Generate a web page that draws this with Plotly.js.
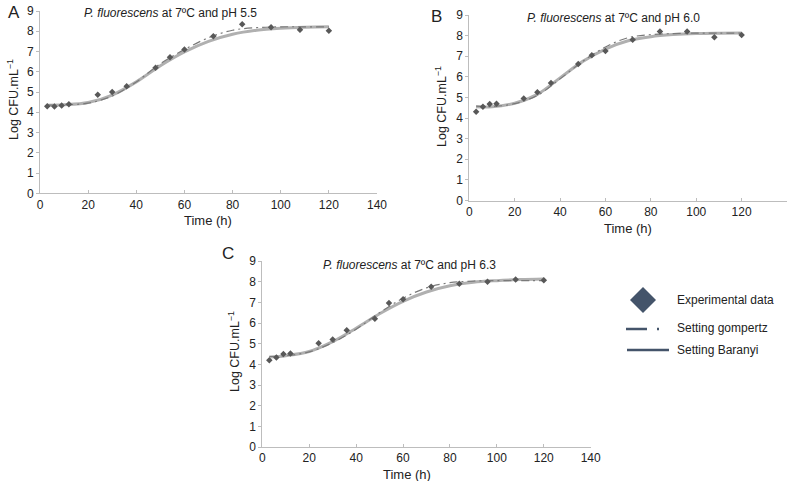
<!DOCTYPE html>
<html><head><meta charset="utf-8">
<script src="https://cdn.plot.ly/plotly-3.0.1.min.js"></script>
<style>html,body{margin:0;padding:0;background:#fff}#chart{width:796px;height:481px}</style>
</head><body><div id="chart"></div>
<script>
// Experimental sampling times (h)
const timesExp = [3, 6, 9, 12, 24, 30, 36, 48, 54, 60, 72, 84, 96, 108, 120];
const expA = [4.30, 4.28, 4.33, 4.40, 4.87, 5.00, 5.28, 6.20, 6.72, 7.10, 7.75, 8.35, 8.20, 8.08, 8.02];
const expB = [4.30, 4.55, 4.68, 4.70, 4.95, 5.25, 5.70, 6.62, 7.05, 7.25, 7.80, 8.20, 8.20, 7.92, 8.03];
const expC = [4.20, 4.33, 4.50, 4.53, 5.02, 5.20, 5.65, 6.20, 6.97, 7.15, 7.75, 7.90, 8.00, 8.10, 8.07];

// Fitted curves
const timesFit = [3, 10, 20, 30, 40, 50, 60, 70, 80, 90, 100, 110, 120];
const baranyiA = [4.35, 4.37, 4.48, 4.85, 5.50, 6.30, 6.98, 7.50, 7.85, 8.05, 8.15, 8.20, 8.22];
const gompertzA = [4.35, 4.37, 4.45, 4.80, 5.50, 6.40, 7.10, 7.68, 8.05, 8.18, 8.22, 8.22, 8.22];
const baranyiB = [4.55, 4.55, 4.72, 5.15, 5.95, 6.75, 7.35, 7.75, 7.95, 8.05, 8.10, 8.12, 8.13];
const gompertzB = [4.58, 4.56, 4.70, 5.10, 5.90, 6.75, 7.45, 7.90, 8.05, 8.10, 8.12, 8.12, 8.12];
const baranyiC = [4.35, 4.42, 4.62, 5.10, 5.75, 6.45, 7.05, 7.50, 7.80, 7.97, 8.05, 8.10, 8.13];
const gompertzC = [4.38, 4.42, 4.60, 5.05, 5.70, 6.50, 7.20, 7.70, 7.95, 8.03, 8.05, 8.05, 8.05];

const panelLabels = ['A', 'B', 'C'];
const panelTitles = ['<i>P. fluorescens</i> at 7ºC and pH 5.5',
                     '<i>P. fluorescens</i> at 7ºC and pH 6.0',
                     '<i>P. fluorescens</i> at 7ºC and pH 6.3'];
const legendLabels = ['Experimental data', 'Setting gompertz', 'Setting Baranyi'];
const xTitle = 'Time (h)';
const yTitle = 'Log CFU.mL<sup>−1</sup>';

const W = 796, H = 481;
const px = v => v / W, py = v => 1 - v / H;

const panels = [
  {exp: expA, bar: baranyiA, gom: gompertzA, x0: 40, x1: 377, yb: 193.3, yt: 11},
  {exp: expB, bar: baranyiB, gom: gompertzB, x0: 469.3, x1: 787, yb: 200.5, yt: 15},
  {exp: expC, bar: baranyiC, gom: gompertzC, x0: 262.3, x1: 590.7, yb: 447, yt: 261}
];

const traces = [];
const layout = {
  width: W, height: H, margin: {l: 0, r: 0, t: 0, b: 0},
  paper_bgcolor: '#fff', plot_bgcolor: '#fff', showlegend: false,
  font: {family: 'Liberation Sans, Arial, sans-serif', size: 12, color: '#222'},
  annotations: [], shapes: []
};

panels.forEach((p, i) => {
  const s = i === 0 ? '' : String(i + 1);
  const xa = 'x' + s, ya = 'y' + s;
  traces.push({x: timesFit, y: p.bar, xaxis: xa, yaxis: ya, mode: 'lines',
    line: {color: '#b0b0b0', width: 3, shape: 'spline'}, hoverinfo: 'skip'});
  traces.push({x: timesFit, y: p.gom, xaxis: xa, yaxis: ya, mode: 'lines',
    line: {color: '#7a7a7a', width: 1.2, dash: '8px,4px,2px,4px', shape: 'spline'}, hoverinfo: 'skip'});
  traces.push({x: timesExp, y: p.exp, xaxis: xa, yaxis: ya, mode: 'markers',
    marker: {symbol: 'diamond', size: 5, color: '#585858'}});
  layout['xaxis' + s] = {
    domain: [px(p.x0), px(p.x1)], range: [0, 140], anchor: ya,
    tickvals: [0, 20, 40, 60, 80, 100, 120, 140], ticks: 'inside', ticklen: 3,
    tickcolor: '#bdbdbd', showline: true, linecolor: '#bdbdbd', linewidth: 1,
    showgrid: false, zeroline: false, tickfont: {size: 12, color: '#222'}
  };
  layout['yaxis' + s] = {
    domain: [py(p.yb), py(p.yt)], range: [0, 9], anchor: xa,
    tickvals: [0, 1, 2, 3, 4, 5, 6, 7, 8, 9], ticks: 'outside', ticklen: 3,
    tickcolor: '#bdbdbd', showline: true, linecolor: '#bdbdbd', linewidth: 1,
    showgrid: false, zeroline: false, tickfont: {size: 12, color: '#222'}
  };
});

const ann = (x, y, text, opts) => Object.assign({xref: 'paper', yref: 'paper', x: px(x), y: py(y),
  text: text, showarrow: false, xanchor: 'center', yanchor: 'middle',
  font: {size: 12, color: '#222'}}, opts || {});

// Panel letters
layout.annotations.push(ann(14, 12, panelLabels[0], {font: {size: 17, color: '#222'}}));
layout.annotations.push(ann(436, 16, panelLabels[1], {font: {size: 17, color: '#222'}}));
layout.annotations.push(ann(228, 253, panelLabels[2], {font: {size: 17, color: '#222'}}));
// Panel titles
layout.annotations.push(ann(170, 13, panelTitles[0], {font: {size: 12, color: '#222'}}));
layout.annotations.push(ann(613, 18, panelTitles[1], {font: {size: 12, color: '#222'}}));
layout.annotations.push(ann(410, 265, panelTitles[2], {font: {size: 12, color: '#222'}}));
// Axis titles
layout.annotations.push(ann(208, 220, xTitle, {font: {size: 13, color: '#222'}}));
layout.annotations.push(ann(628, 228, xTitle, {font: {size: 13, color: '#222'}}));
layout.annotations.push(ann(407, 474, xTitle, {font: {size: 13, color: '#222'}}));
layout.annotations.push(ann(13, 100, yTitle, {textangle: -90, font: {size: 12.5, color: '#222'}}));
layout.annotations.push(ann(441, 107, yTitle, {textangle: -90, font: {size: 12.5, color: '#222'}}));
layout.annotations.push(ann(234, 352, yTitle, {textangle: -90, font: {size: 12.5, color: '#222'}}));

// Legend (drawn manually to match the large legend glyphs)
const legColor = '#44546a';
layout.shapes.push({type: 'path', xref: 'paper', yref: 'paper',
  path: `M ${px(643)} ${py(287)} L ${px(656)} ${py(300)} L ${px(643)} ${py(313)} L ${px(630)} ${py(300)} Z`,
  fillcolor: legColor, line: {width: 0}});
layout.shapes.push({type: 'line', xref: 'paper', yref: 'paper', x0: px(626), x1: px(647), y0: py(329), y1: py(329),
  line: {color: legColor, width: 2.5}});
layout.shapes.push({type: 'line', xref: 'paper', yref: 'paper', x0: px(657), x1: px(659), y0: py(329), y1: py(329),
  line: {color: legColor, width: 2.5}});
layout.shapes.push({type: 'line', xref: 'paper', yref: 'paper', x0: px(627), x1: px(669), y0: py(350), y1: py(350),
  line: {color: legColor, width: 2.5}});
layout.annotations.push(ann(675, 300, legendLabels[0], {xanchor: 'left'}));
layout.annotations.push(ann(675, 328, legendLabels[1], {xanchor: 'left'}));
layout.annotations.push(ann(675, 350, legendLabels[2], {xanchor: 'left'}));

Plotly.newPlot('chart', traces, layout, {staticPlot: true});
</script></body></html>
